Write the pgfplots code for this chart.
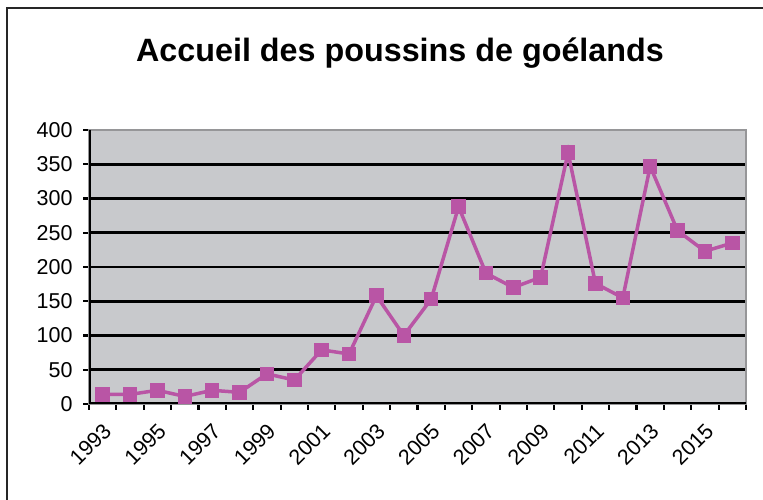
\documentclass[border=0pt]{standalone}
\usepackage{fontspec}
\setmainfont{Liberation Sans}
\usepackage{pgfplots}
\pgfplotsset{compat=1.18}

\definecolor{plotbg}{RGB}{200,201,204}
\definecolor{frame}{RGB}{150,150,152}
\definecolor{serie}{RGB}{185,85,165}

\begin{document}
\begin{tikzpicture}[x=1pt,y=1pt]
\path[use as bounding box] (0,0) rectangle (763,500);
% cadre du graphique
\draw[line width=1.5pt, black!85] (7,-20) -- (7,492) -- (790,492);
\node[anchor=base, font=\fontsize{32.3}{38}\selectfont\bfseries] at (400,438) {Accueil des poussins de goélands};

\begin{axis}[
    at={(89pt,96pt)}, anchor=south west,
    scale only axis,
    width=657pt, height=274pt,
    xmin=-0.5, xmax=23.5,
    ymin=0, ymax=400,
    ytick={0,50,...,400},
    xtick={0,2,...,22},
    xticklabels={1993,1995,1997,1999,2001,2003,2005,2007,2009,2011,2013,2015},
    minor xtick={-0.5,0.5,...,23.5},
    major x tick style={draw=none},
    xticklabel style={rotate=45, anchor=east, xshift=-5.5pt, yshift=-15.5pt},
    ymajorgrids=true,
    grid style={black, line width=2.6pt},
    axis background/.style={fill=plotbg},
    axis line style={frame, line width=2.6pt},
    tick align=outside,
    major tick length=6pt, minor tick length=6pt,
    tick style={black, line width=2.2pt},
    xtick pos=bottom, ytick pos=left,
    tick label style={font=\fontsize{21.5}{23}\selectfont},
    /pgf/number format/assume math mode=true,
    yticklabel style={xshift=-7pt},
]
\addplot[serie, line width=3.5pt, mark=square*, mark size=6.8pt,
    mark options={serie, line width=0pt}] coordinates {
    (0,14) (1,14) (2,20) (3,11) (4,20) (5,17) (6,44) (7,35)
    (8,79) (9,73) (10,158) (11,100) (12,153) (13,288) (14,191) (15,170)
    (16,185) (17,367) (18,176) (19,155) (20,347) (21,253) (22,223) (23,235)
};
\draw[black, line width=3pt] (rel axis cs:0,1) -- (rel axis cs:0,0) -- (rel axis cs:1,0);
\end{axis}
\end{tikzpicture}
\end{document}
